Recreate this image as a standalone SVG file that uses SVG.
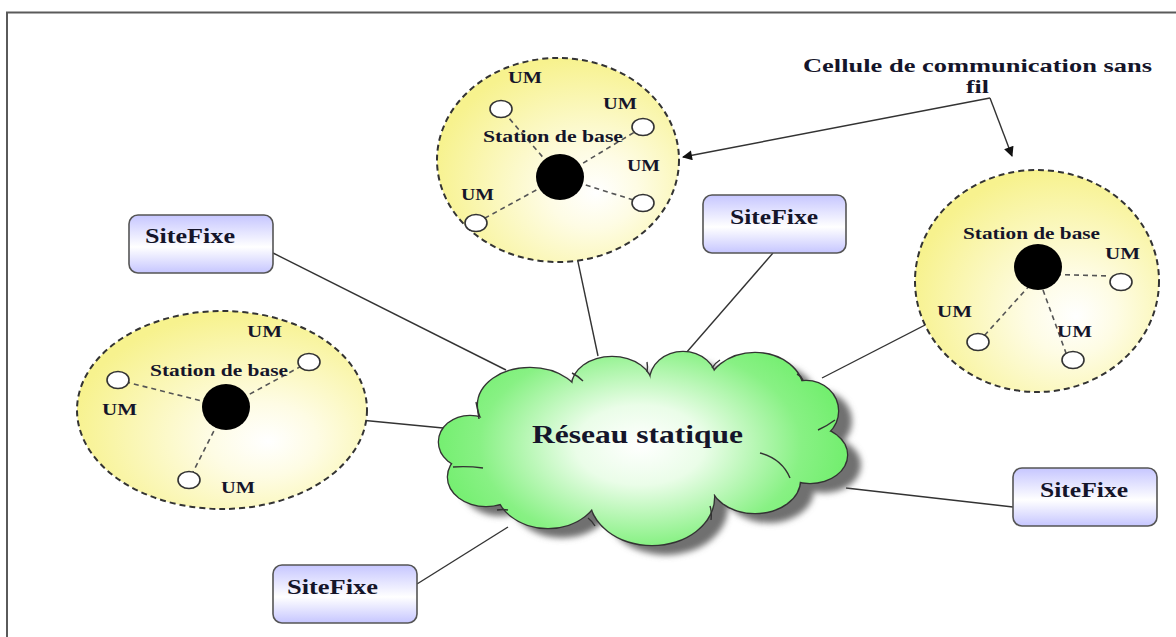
<svg xmlns="http://www.w3.org/2000/svg" width="1176" height="637" viewBox="0 0 1176 637">
  <defs>
    <radialGradient id="cellFill" cx="0.6" cy="0.62" r="0.62" fx="0.66" fy="0.66">
      <stop offset="0" stop-color="#ffffff"/>
      <stop offset="0.3" stop-color="#fefce4"/>
      <stop offset="1" stop-color="#f7f28e"/>
    </radialGradient>
    <linearGradient id="boxFill" x1="0" y1="0" x2="0" y2="1">
      <stop offset="0" stop-color="#c6c6ff"/>
      <stop offset="0.55" stop-color="#ffffff"/>
      <stop offset="1" stop-color="#c6c6ff"/>
    </linearGradient>
    <radialGradient id="cloudFill" gradientUnits="userSpaceOnUse" cx="640" cy="445" r="215" gradientTransform="translate(640 445) scale(1 0.62) translate(-640 -445)">
      <stop offset="0" stop-color="#ffffff"/>
      <stop offset="0.3" stop-color="#eafde8"/>
      <stop offset="0.75" stop-color="#88f184"/>
      <stop offset="1" stop-color="#6fee6b"/>
    </radialGradient>
    <filter id="soft" x="-10%" y="-10%" width="120%" height="120%">
      <feGaussianBlur stdDeviation="3"/>
    </filter>
    <marker id="arrow" viewBox="0 0 10 10" refX="9" refY="5" markerWidth="13" markerHeight="10" markerUnits="userSpaceOnUse" orient="auto">
      <path d="M0,0 L10,5 L0,10 z" fill="#111"/>
    </marker>
    <!-- cloud lobes, reused for outline, fill and shadow -->
    <g id="lobes">
      <ellipse cx="470" cy="442" rx="31" ry="26"/>
      <ellipse cx="530" cy="405" rx="52" ry="37"/>
      <ellipse cx="612" cy="386" rx="40" ry="29"/>
      <ellipse cx="683" cy="381" rx="33" ry="29"/>
      <ellipse cx="755" cy="391" rx="48" ry="38"/>
      <ellipse cx="806" cy="411" rx="32" ry="30"/>
      <ellipse cx="810" cy="455" rx="37" ry="28"/>
      <ellipse cx="755" cy="480" rx="45" ry="33"/>
      <ellipse cx="652" cy="497" rx="62" ry="48"/>
      <ellipse cx="548" cy="487" rx="52" ry="41"/>
      <ellipse cx="486" cy="477" rx="38" ry="29"/>
      <ellipse cx="640" cy="440" rx="170" ry="60"/>
    </g>
  </defs>
  <style>
    .lbl { font-family: "Liberation Serif", "Times New Roman", serif; font-weight: bold; fill: #15152a; }
    .um { font-size: 16px; }
    .st { font-size: 16px; }
    .site { font-size: 21px; }
    .cell { fill: url(#cellFill); stroke: #333; stroke-width: 2; stroke-dasharray: 6 4; }
    .dot { fill: #000; }
    .mob { fill: #fff; stroke: #333; stroke-width: 1.6; }
    .radio { stroke: #555; stroke-width: 1.6; stroke-dasharray: 5 4; fill: none; }
    .box { fill: url(#boxFill); stroke: #555; stroke-width: 1.6; }
    .link { stroke: #333; stroke-width: 1.4; fill: none; }
  </style>

  <rect width="1176" height="637" fill="#ffffff"/>
  <!-- page frame -->
  <path d="M7,637 V12.5 H1176" fill="none" stroke="#5a5a5a" stroke-width="2"/>

  <!-- wired links -->
  <g id="connectors">
    <line class="link" x1="273" y1="253" x2="506" y2="370"/>
    <line class="link" x1="773" y1="253" x2="686" y2="353"/>
    <line class="link" x1="1013" y1="507" x2="846" y2="488"/>
    <line class="link" x1="417" y1="584" x2="508" y2="527"/>
    <line class="link" x1="560" y1="177" x2="598" y2="356"/>
    <line class="link" x1="1038" y1="267" x2="822" y2="378"/>
    <line class="link" x1="226" y1="407" x2="443" y2="428"/>
    <polyline class="link" stroke-width="1.6" points="990,98 683,157" marker-end="url(#arrow)"/>
    <polyline class="link" stroke-width="1.6" points="990,98 1012,156" marker-end="url(#arrow)"/>
  </g>

  <!-- static network cloud -->
  <g id="cloud">
    <use href="#lobes" transform="translate(14 10)" fill="#707070" filter="url(#soft)"/>
    <use href="#lobes" fill="none" stroke="#333" stroke-width="2.6"/>
    <use href="#lobes" fill="url(#cloudFill)"/>
    <g class="link" stroke-width="1.3">
      <path d="M476,402 q2,8 3,17"/>
      <path d="M572,373 q6,3 11,8"/>
      <path d="M647,362 q1,5 0,10"/>
      <path d="M720,360 q-5,3 -8,8"/>
      <path d="M797,374 q4,2 6,6"/>
      <path d="M835,420 q-8,6 -17,10"/>
      <path d="M760,453 q22,6 30,25"/>
      <path d="M710,506 q2,6 1,14"/>
      <path d="M588,518 q4,3 7,8"/>
      <path d="M497,510 q6,-1 11,0"/>
      <path d="M453,467 q15,-1 30,1"/>
    </g>
    <text class="lbl" x="532" y="443" font-size="25" textLength="211" lengthAdjust="spacingAndGlyphs">Réseau statique</text>
  </g>

  <!-- top radio cell -->
  <g id="cell-top">
    <ellipse class="cell" cx="558" cy="160" rx="121" ry="102"/>
    <line class="radio" x1="560" y1="177" x2="501" y2="109"/>
    <line class="radio" x1="560" y1="177" x2="643" y2="127"/>
    <line class="radio" x1="560" y1="177" x2="643" y2="203"/>
    <line class="radio" x1="560" y1="177" x2="476" y2="223"/>
    <ellipse class="dot" cx="560" cy="177" rx="24" ry="23"/>
    <ellipse class="mob" cx="501" cy="109" rx="11" ry="8.5"/>
    <ellipse class="mob" cx="643" cy="127" rx="11" ry="8.5"/>
    <ellipse class="mob" cx="643" cy="203" rx="11" ry="8.5"/>
    <ellipse class="mob" cx="476" cy="223" rx="11" ry="8.5"/>
    <text class="lbl um" x="508" y="83" textLength="34" lengthAdjust="spacingAndGlyphs">UM</text>
    <text class="lbl um" x="603" y="109" textLength="34" lengthAdjust="spacingAndGlyphs">UM</text>
    <text class="lbl um" x="627" y="171" textLength="33" lengthAdjust="spacingAndGlyphs">UM</text>
    <text class="lbl um" x="461" y="200" textLength="33" lengthAdjust="spacingAndGlyphs">UM</text>
    <text class="lbl st" x="483" y="142" textLength="140" lengthAdjust="spacingAndGlyphs">Station de base</text>
  </g>

  <!-- right radio cell -->
  <g id="cell-right">
    <ellipse class="cell" cx="1037" cy="281" rx="122" ry="111"/>
    <line class="radio" x1="1038" y1="274" x2="1110" y2="276"/>
    <line class="radio" x1="1030" y1="285" x2="984" y2="336"/>
    <line class="radio" x1="1043" y1="290" x2="1066" y2="353"/>
    <ellipse class="dot" cx="1038" cy="267" rx="24" ry="23"/>
    <ellipse class="mob" cx="1121" cy="282" rx="11" ry="8.5"/>
    <ellipse class="mob" cx="978" cy="342" rx="11" ry="8.5"/>
    <ellipse class="mob" cx="1073" cy="360" rx="11" ry="8.5"/>
    <text class="lbl st" x="963" y="239" textLength="137" lengthAdjust="spacingAndGlyphs">Station de base</text>
    <text class="lbl um" x="1105" y="259" textLength="35" lengthAdjust="spacingAndGlyphs">UM</text>
    <text class="lbl um" x="937" y="317" textLength="35" lengthAdjust="spacingAndGlyphs">UM</text>
    <text class="lbl um" x="1057" y="337" textLength="35" lengthAdjust="spacingAndGlyphs">UM</text>
  </g>

  <!-- left radio cell -->
  <g id="cell-left">
    <ellipse class="cell" cx="222" cy="410" rx="145" ry="99"/>
    <line class="radio" x1="226" y1="407" x2="118" y2="380"/>
    <line class="radio" x1="226" y1="407" x2="309" y2="362"/>
    <line class="radio" x1="226" y1="407" x2="189" y2="480"/>
    <ellipse class="dot" cx="226" cy="407" rx="24" ry="23"/>
    <ellipse class="mob" cx="118" cy="380" rx="11" ry="8.5"/>
    <ellipse class="mob" cx="309" cy="362" rx="11" ry="8.5"/>
    <ellipse class="mob" cx="189" cy="480" rx="11" ry="8.5"/>
    <text class="lbl st" x="150" y="376" textLength="138" lengthAdjust="spacingAndGlyphs">Station de base</text>
    <text class="lbl um" x="247" y="337" textLength="35" lengthAdjust="spacingAndGlyphs">UM</text>
    <text class="lbl um" x="102" y="415" textLength="35" lengthAdjust="spacingAndGlyphs">UM</text>
    <text class="lbl um" x="221" y="493" textLength="34" lengthAdjust="spacingAndGlyphs">UM</text>
  </g>

  <!-- fixed sites -->
  <g id="site-1">
    <rect class="box" x="129" y="215" width="144" height="58" rx="9"/>
    <text class="lbl site" x="145" y="243" textLength="90" lengthAdjust="spacingAndGlyphs">SiteFixe</text>
  </g>
  <g id="site-2">
    <rect class="box" x="703" y="195" width="143" height="58" rx="9"/>
    <text class="lbl site" x="730" y="224" textLength="88" lengthAdjust="spacingAndGlyphs">SiteFixe</text>
  </g>
  <g id="site-3">
    <rect class="box" x="1013" y="468" width="144" height="58" rx="9"/>
    <text class="lbl site" x="1040" y="497" textLength="88" lengthAdjust="spacingAndGlyphs">SiteFixe</text>
  </g>
  <g id="site-4">
    <rect class="box" x="273" y="565" width="144" height="58" rx="9"/>
    <text class="lbl site" x="287" y="594" textLength="91" lengthAdjust="spacingAndGlyphs">SiteFixe</text>
  </g>

  <!-- callout -->
  <g id="callout">
    <text class="lbl" x="803" y="72" font-size="19" textLength="349" lengthAdjust="spacingAndGlyphs">Cellule de communication sans</text>
    <text class="lbl" x="966" y="93" font-size="19" textLength="23" lengthAdjust="spacingAndGlyphs">fil</text>
  </g>
</svg>
